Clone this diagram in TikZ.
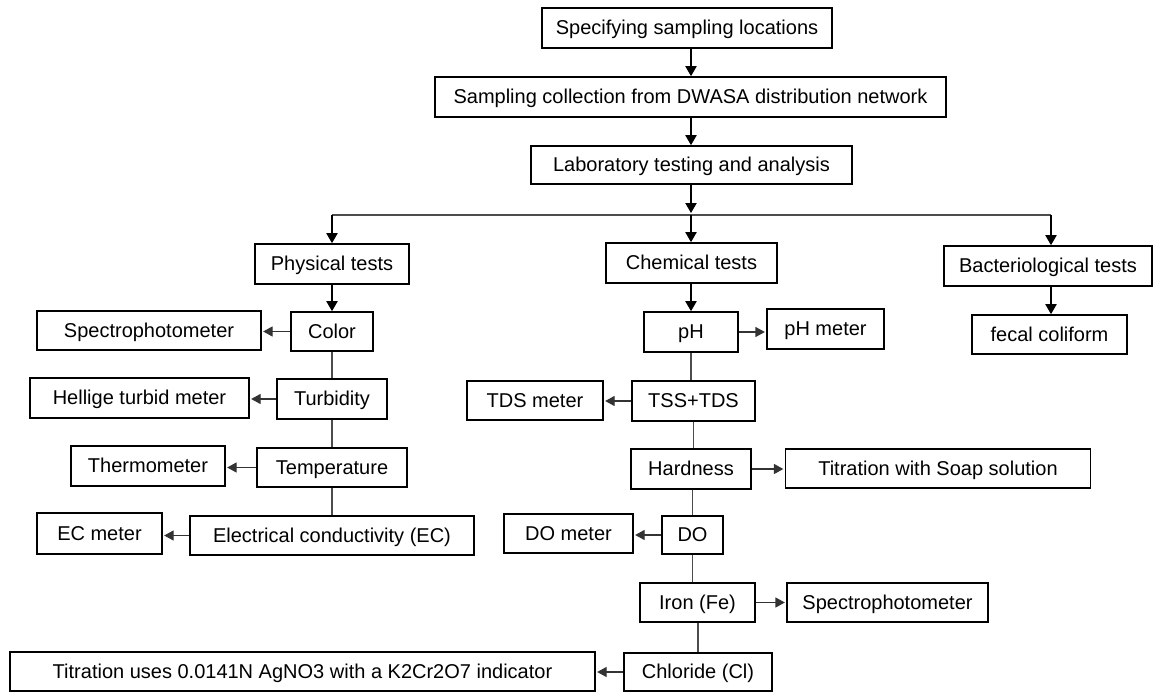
\documentclass[tikz,border=0pt]{standalone}
\usepackage{fontspec}
\setmainfont{Liberation Sans}
\usetikzlibrary{arrows.meta}
\newcommand\mkbox[6]{\node[bx,minimum width={(#4)*0.75pt},minimum height={(#5)*0.75pt}] (#1) at (#2,#3) {#6};}
\begin{document}
\begin{tikzpicture}[x=0.75pt,y=-0.75pt,
 bx/.style={draw=black,line width=1.3pt,inner sep=0pt,align=center,text height=10.2pt,text depth=0pt,font=\fontsize{15}{18}\selectfont},
 arr/.style={draw=black,line width=0.8pt,-{Triangle[length=7.5pt,width=8.5pt]}},
 sarr/.style={draw=black!80,line width=0.8pt,-{Triangle[length=7pt,width=7.5pt]},shorten >=1pt},
 ln/.style={draw=black!70,line width=0.8pt}]
\useasboundingbox[fill=white] (0,0) rectangle (1153,692);
% main chain
\mkbox{spec}{687}{28}{290}{40}{Specifying sampling locations}
\mkbox{coll}{690.5}{97}{511}{40}{Sampling collection from DWASA distribution network}
\mkbox{lab}{691.5}{165}{321}{38}{Laboratory testing and analysis}
\mkbox{phys}{332}{264}{154}{40}{Physical tests}
\mkbox{chem}{691.5}{263}{171}{40}{Chemical tests}
\mkbox{bact}{1048}{266}{208}{40}{Bacteriological tests}
\mkbox{fecal}{1049.5}{334.5}{155}{39}{fecal coliform}
% physical
\mkbox{color}{332}{331.5}{82}{39}{Color}
\mkbox{specA}{149}{330.5}{224}{39}{Spectrophotometer}
\mkbox{turb}{332}{399}{110}{40}{Turbidity}
\mkbox{hell}{139.5}{398}{219}{40}{Hellige turbid meter}
\mkbox{temp}{332}{467.5}{150}{39}{Temperature}
\mkbox{thermo}{148}{466}{154}{40}{Thermometer}
\mkbox{ec}{332}{535.5}{284}{39}{Electrical conductivity (EC)}
\mkbox{ecm}{99.5}{533.5}{125}{41}{EC meter}
% chemical
\mkbox{ph}{691}{332}{94}{40}{pH}
\mkbox{phm}{825.5}{329}{117}{40}{pH meter}
\mkbox{tss}{693.5}{401}{123}{40}{TSS+TDS}
\mkbox{tdsm}{535}{400.5}{136}{39}{TDS meter}
\mkbox{hard}{691}{469}{120}{40}{Hardness}
\mkbox{soap}{938}{468.5}{305}{39}{Titration with Soap solution}
\mkbox{do}{692.5}{535}{61}{38}{DO}
\mkbox{dom}{568.5}{533.5}{129}{39}{DO meter}
\mkbox{iron}{697.5}{602.5}{115}{39}{Iron (Fe)}
\mkbox{specB}{887.5}{602.5}{201}{39}{Spectrophotometer}
\mkbox{chl}{698}{672}{148}{38}{Chloride (Cl)}
\mkbox{titr}{302.5}{671.5}{585}{39}{Titration uses 0.0141N AgNO3 with a K2Cr2O7 indicator}
% junction coordinates
\coordinate (j) at (691,215);
\coordinate (jl) at (332,215);
\coordinate (jr) at (1051,215);
% top connectors
\draw[arr] (spec.south -| j) -- (coll.north -| j);
\draw[arr] (coll.south -| j) -- (lab.north -| j);
\draw[arr] (lab.south -| j) -- ([yshift=1.5pt]j);
\draw[ln] (jl) -- (jr);
\draw[arr] (j) -- (chem.north -| j);
\draw[arr] (jl) -- (phys.north -| jl);
\draw[arr] (jr) -- (bact.north -| jr);
\draw[arr] (bact.south -| jr) -- (fecal.north -| jr);
% physical branch
\draw[arr] (phys.south) -- (color.north);
\draw[sarr] (color.west) -- (color.west -| specA.east);
\draw[ln] (color.south) -- (turb.north);
\draw[sarr] (turb.west) -- (turb.west -| hell.east);
\draw[ln] (turb.south) -- (temp.north);
\draw[sarr] (temp.west) -- (temp.west -| thermo.east);
\draw[ln] (temp.south) -- (ec.north);
\draw[sarr] (ec.west) -- (ec.west -| ecm.east);
% chemical branch
\draw[arr] (chem.south -| ph) -- (ph.north);
\draw[sarr] (ph.east) -- (ph.east -| phm.west);
\draw[ln] (ph.south) -- (ph.south |- tss.north);
\draw[sarr] (tss.west) -- (tss.west -| tdsm.east);
\draw[ln] (tss.south) -- (tss.south |- hard.north);
\draw[sarr] (hard.east) -- (hard.east -| soap.west);
\draw[ln] (do.north |- hard.south) -- (do.north);
\draw[sarr] (do.west) -- (do.west -| dom.east);
\draw[ln] (do.south) -- (do.south |- iron.north);
\draw[sarr] (iron.east) -- (iron.east -| specB.west);
\draw[ln] (chl.north |- iron.south) -- (chl.north);
\draw[sarr] (chl.west) -- (chl.west -| titr.east);
\end{tikzpicture}
\end{document}
